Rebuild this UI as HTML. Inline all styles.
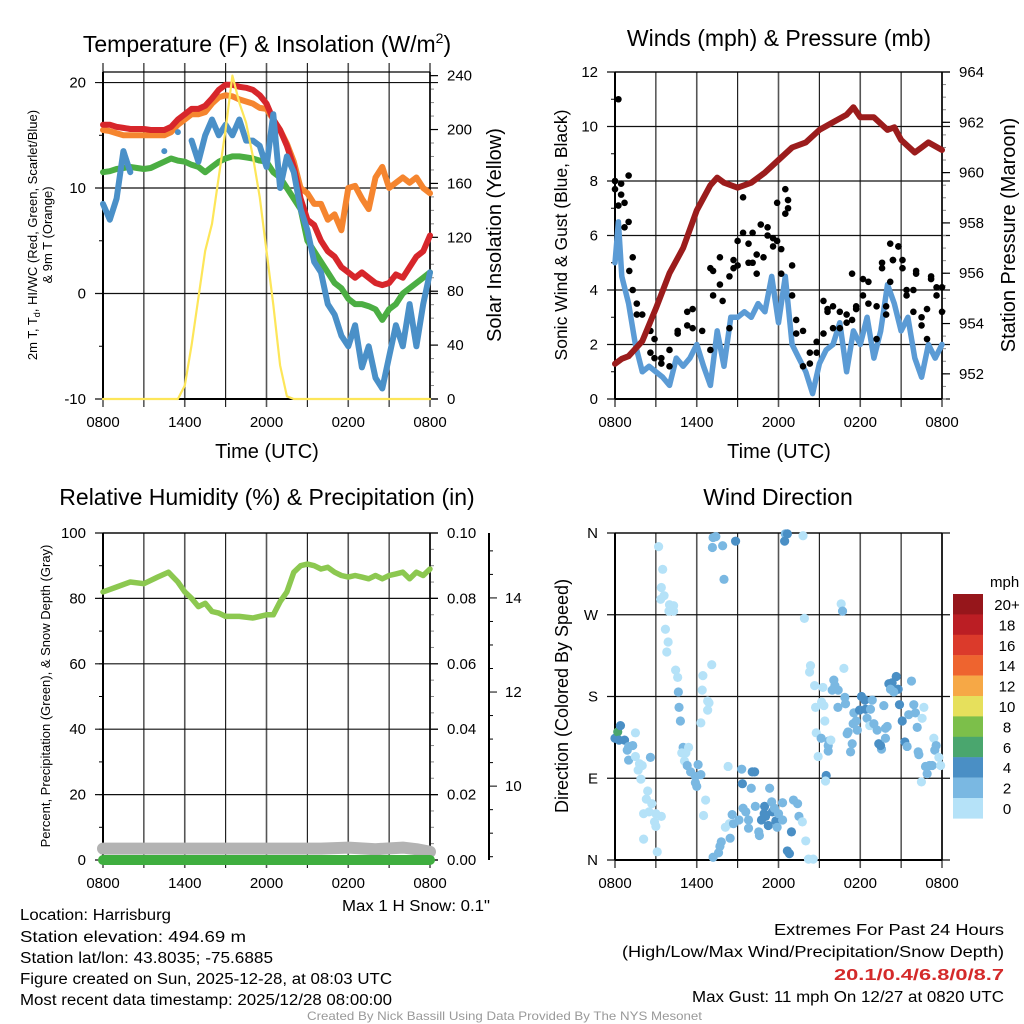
<!DOCTYPE html>
<html><head><meta charset="utf-8"><style>
html,body{margin:0;padding:0;background:#fff}
svg{display:block;font-family:"Liberation Sans",sans-serif}
</style></head><body>
<svg id="fig" width="1024" height="1024" viewBox="0 0 1024 1024" xmlns="http://www.w3.org/2000/svg">
<g id="static" fill="#000">
<text x="267" y="52" font-size="23" text-anchor="middle">Temperature (F) &amp; Insolation (W/m<tspan dy="-9" font-size="14">2</tspan><tspan dy="9">)</tspan></text>
<text x="779" y="46" font-size="23" text-anchor="middle">Winds (mph) &amp; Pressure (mb)</text>
<text x="267" y="505" font-size="23" text-anchor="middle">Relative Humidity (%) &amp; Precipitation (in)</text>
<text x="778" y="505" font-size="23" text-anchor="middle">Wind Direction</text>

<text x="267" y="458" font-size="20" text-anchor="middle">Time (UTC)</text>
<text x="779" y="458" font-size="20" text-anchor="middle">Time (UTC)</text>

<g transform="translate(37,235) rotate(-90)" font-size="13" text-anchor="middle"><text y="0">2m T, T<tspan font-size="9" dy="3">d</tspan><tspan dy="-3">, HI/WC (Red, Green, Scarlet/Blue)</tspan></text><text y="15">&amp; 9m T (Orange)</text></g>
<text transform="translate(501,235) rotate(-90)" font-size="20" text-anchor="middle">Solar Insolation (Yellow)</text>
<text transform="translate(567,235) rotate(-90)" font-size="17.5" text-anchor="middle">Sonic Wind &amp; Gust (Blue, Black)</text>
<text transform="translate(1015,235) rotate(-90)" font-size="20" text-anchor="middle">Station Pressure (Maroon)</text>
<text transform="translate(50,696) rotate(-90)" font-size="13" text-anchor="middle">Percent, Precipitation (Green), &amp; Snow Depth (Gray)</text>
<text transform="translate(568,696) rotate(-90)" font-size="18" text-anchor="middle">Direction (Colored By Speed)</text>

<text x="342" y="911" font-size="15.5" textLength="148" lengthAdjust="spacingAndGlyphs">Max 1 H Snow: 0.1"</text>
<g font-size="15.5">
<text x="20" y="920" textLength="151" lengthAdjust="spacingAndGlyphs">Location: Harrisburg</text>
<text x="20" y="942" textLength="226" lengthAdjust="spacingAndGlyphs">Station elevation: 494.69 m</text>
<text x="20" y="963" textLength="253" lengthAdjust="spacingAndGlyphs">Station lat/lon: 43.8035; -75.6885</text>
<text x="20" y="984" textLength="372" lengthAdjust="spacingAndGlyphs">Figure created on Sun, 2025-12-28, at 08:03 UTC</text>
<text x="20" y="1005" textLength="372" lengthAdjust="spacingAndGlyphs">Most recent data timestamp: 2025/12/28 08:00:00</text>
</g>
<g font-size="16">
<text x="774" y="935" textLength="230" lengthAdjust="spacingAndGlyphs">Extremes For Past 24 Hours</text>
<text x="622" y="957" textLength="382" lengthAdjust="spacingAndGlyphs">(High/Low/Max Wind/Precipitation/Snow Depth)</text>
<text x="834" y="980" textLength="170" lengthAdjust="spacingAndGlyphs" fill="#d42a2a" font-weight="bold">20.1/0.4/6.8/0/8.7</text>
<text x="692" y="1002" textLength="312" lengthAdjust="spacingAndGlyphs">Max Gust: 11 mph On 12/27 at 0820 UTC</text>
</g>
<text x="307" y="1020" font-size="12" fill="#999" textLength="395" lengthAdjust="spacingAndGlyphs">Created By Nick Bassill Using Data Provided By The NYS Mesonet</text>
</g>
</svg>
<script>
// ---------- data ----------
const tempTimes = [0,0.5,1,1.5,2,2.5,3,3.5,4,4.5,5,5.5,6,6.5,7,7.5,8,8.5,9,9.5,10,10.5,11,11.5,12,12.5,13,13.5,14,14.5,15,15.5,16,16.5,17,17.5,18,18.5,19,19.5,20,20.5,21,21.5,22,22.5,23,23.5,24];
const tempRed = [16,16,15.8,15.7,15.6,15.6,15.6,15.5,15.5,15.5,15.8,16.5,17,17.5,17.5,17.8,18.5,19.3,19.8,19.8,19.6,19.5,19.3,18.8,18,16.5,15.5,14,12,9,7,6.5,5,4,3.5,2.5,2,1.5,2,1.5,1,0.8,1,1.8,1.5,2.5,3.5,4,5.5];
const tempOrange = [15.5,15.4,15.2,15,15,15,15,15,15,15,15.3,16,16.5,17,17,17.2,18,18.6,18.8,18.7,18.4,18.2,18,17.6,17.5,16.5,15.5,14.2,12.5,10,9.5,8.5,8.5,7,7.5,6,10,10.2,9,8,11,12,10,10.5,11,10.5,11,10,9.5];
const tempGreen = [11.5,11.6,11.8,11.9,12,11.9,11.8,11.9,12.2,12.5,12.8,12.6,12.5,12.2,12,11.5,12,12.5,12.8,13,13,12.9,12.8,12.6,12.5,11.5,11,10,9,8,5,4,3,2,1,0.5,-0.5,-1,-1,-1.2,-1.5,-2.5,-1.5,-1,0,0.5,1,1.5,2];
const tempBlue = [8.5,7,9,13.5,11.5,null,null,null,null,13.5,null,15.3,null,14.5,12.5,15,16.5,15,16,15,16.5,14.5,14.5,14,12,17,10,13,11.5,8,6,3,2,-1,-2,-4,-5,-3,-7,-5,-8,-9,-6,-3,-5,-1,-5,-1,2];
const insolation = [0,0,0,0,0,0,0,0,0,0,0,0,10,40,75,110,130,165,200,240,220,205,180,150,110,70,25,2,0,0,0,0,0,0,0,0,0,0,0,0,0,0,0,0,0,0,0,0,0];

const windTimes = [0,0.25,0.5,1,1.5,2,2.5,3,3.5,4,4.5,5,5.5,6,6.5,7,7.5,8,8.5,9,9.5,10,10.5,11,11.5,12,12.5,13,13.5,14,14.5,15,15.5,16,16.5,17,17.5,18,18.5,19,19.5,20,20.5,21,21.5,22,22.5,23,23.5,24];
const windSpeed = [5,6.5,4.5,3.5,2,1,1.2,1,0.8,0.5,1.5,1.2,1.5,2,1.2,0.5,2.5,1.2,3,3,3.2,3,3.5,3.2,4.5,2.8,4.5,2,1.5,1,0.2,1.3,1.8,2,2.8,1,2.5,2,3,1.5,2.5,4.2,3.5,2.5,3,1.5,0.8,2,1.5,2];
const presTimes = [0,0.5,1,2,3,4,5,6,7,7.5,8,9,10,11,12,13,14,15,16,17,17.5,18,19,20,20.5,21,22,22.5,23,24];
const pressure = [952.4,952.6,952.7,953.3,954.6,956,957,958.5,959.5,959.8,959.6,959.4,959.6,960,960.5,961,961.2,961.7,962,962.3,962.6,962.2,962.2,961.7,961.8,961.3,960.8,961,961.2,960.9];
const gustTimes = [0,0,0.25,0.25,0.45,0.45,0.7,0.7,1,1,1.05,1.3,1.3,1.6,1.6,2,2.6,2.6,2.9,2.9,3.4,3.4,4,4,4.6,4.6,5.3,5.3,5.7,5.7,6.4,7,7,7.2,7.2,7.7,7.7,7.9,8.4,8.4,8.7,8.7,9,9,9.4,9.4,9.8,9.8,10.1,10.1,10.4,10.4,10.7,10.9,11.2,11.2,11.6,11.6,11.9,11.9,12.2,12.2,12.5,12.5,12.7,12.7,13,13,13.3,13.3,13.8,13.8,14.3,14.3,14.8,14.8,15.3,15.3,15.6,15.6,16,16,16.5,16.5,17,17,17.4,17.4,17.7,17.7,18.2,18.2,18.6,18.6,19.2,19.2,19.6,19.6,19.9,19.9,20.2,20.2,20.4,20.4,20.8,20.8,21.1,21.1,21.4,21.4,21.9,21.9,22.1,22.1,22.5,22.5,22.9,22.9,23.2,23.2,23.6,23.6,24,24];
const gustVals = [7.7,8,11,7.1,7.9,7.5,6.3,7.2,8.2,6.5,4.7,5.2,4,3.5,3.1,3.1,2.5,1.7,2.2,1.5,1.5,1.3,1.2,1.8,2.5,2.4,2.7,3.2,3.3,2.6,2.5,1.8,4.8,4.7,3.8,5.2,4.2,3.6,2.6,4.5,5.1,4.8,5.8,4.9,7.4,6.1,5.7,5,6.1,5,4.6,5.3,6.4,5.2,6.3,6,5.9,5.6,7.2,5.8,4.6,5.5,6.8,7.7,7,7.3,4.9,3.8,2.9,2.4,1.2,2.5,1.3,1.7,2.1,1.7,3.6,2.4,3.2,3.3,2.6,3.4,2.6,3.2,2.8,3.1,4.6,2.9,3.4,3.3,3.8,4.4,4.3,3.5,3.4,2.2,5,4.8,3.1,3.4,5.7,4.3,5.1,5.1,5.6,5.6,5.1,4.8,4,3.8,4,3.2,4.7,4.6,2.7,3,3.3,2.2,4.5,4.4,3.8,4.1,3.2,4.1];

const rhTimes = [0,1,2,3,4,4.8,5.5,6,6.5,7,7.5,8,8.5,9,10,11,12,12.5,13,13.5,14,14.5,15,15.5,16,16.5,17,17.5,18,18.5,19,19.5,20,20.5,21,21.5,22,22.5,23,23.5,24];
const rhVals = [82,83.5,85,84.5,86.5,88,85,82,80,77.5,78.5,76,75.5,74.5,74.5,74,75,75,79,82,88,90,90.5,90,89,89.5,88,87,86.5,87,86.5,86,87,86,87,87.5,88,86,88,87,89];
const snowTimes = [0,4,8,12,16,18,20,22,23,24];
const snowDepth = [3.5,3.5,3.5,3.5,3.5,3.8,3.3,3.8,3.3,2.5];
const precipTimes = [0,24];
const precipVals = [0,0];

const dirTimes = [0,0.2,0.4,0.3,0.7,1.0,1.3,0.9,1.5,1.0,1.5,1.8,2.0,1.7,1.9,2.6,2.4,2.3,2.7,2.1,2.5,3.0,3.4,2.9,3.0,2.1,3.1,
3.2,3.5,3.4,3.6,3.35,4.0,4.3,3.96,4.3,3.7,3.9,3.8,4.45,4.6,4.65,4.7,4.8,5.0,5.4,4.9,5.2,5.1,5.3,5.55,6.1,5.9,6.3,5.9,6.0,6.65,6.5,6.3,6.4,6.45,6.8,6.9,6.8,7.1,
7.4,7.2,7.15,7.9,8.0,8.85,12.5,12.65,12.45,13.8,16.6,16.7,13.9,
7.2,7.6,7.7,7.8,8.1,8.4,8.45,8.6,8.7,9.1,9.3,9.35,9.4,9.6,9.8,9.8,10.0,10.07,10.25,10.3,10.55,10.6,10.75,10.98,10.95,11.05,11.25,11.35,11.5,11.55,11.7,11.8,11.9,12.0,12.3,12.3,12.65,12.8,12.95,13.1,13.4,13.5,13.75,14.0,14.2,14.55,8.3,
14.35,14.28,14.65,15.26,15.16,15.33,14.72,15.4,14.77,15.13,15.7,15.65,15.84,14.91,15.65,15.5,15.45,16.06,16.14,15.94,16.38,16.87,16.92,16.36,16.8,17.53,17.48,17.7,17.04,17.11,17.41,17.29,17.78,17.95,18.09,18.34,18.39,18.5,18.75,18.88,18.7,19.0,19.24,19.36,19.56,19.49,19.73,19.85,19.98,19.85,20.1,20.34,20.64,20.78,20.22,20.46,20.88,21.08,21.27,21.44,21.76,21.93,22.05,21.56,22.18,22.3,22.25,22.67,22.54,22.79,22.91,22.49,23.08,23.28,23.4,23.47,23.57,23.77,23.9];
const dirDeg = [134,141,148,132,132,125,126,121,140,110,114,106,104,99,89,113,76,67,62,51,53,51,48,42,37,23,9,
345,320,300,291,287,281,280,274,274,254,240,229,209,201,185,168,153,124,124,118,118,109,104,97,105,92,94,85,81,66,49,151,187,203,175,173,165,215,
356,355,344,346,309,351,359,359,351,357,282,274,266,
3,8,15,20,36,40,24,50,40,44,100,84,57,53,35,44,79,97,97,59,31,27,44,59,51,48,38,79,64,53,57,43,36,51,44,63,10,7,31,66,62,48,42,21,1,1,103,
214,207,192,190,174,170,168,153,140,134,131,126,132,114,120,93,87,198,192,187,187,179,172,168,211,162,150,153,139,141,128,119,143,165,180,176,166,156,166,176,148,150,143,128,122,126,170,134,147,145,194,195,202,188,188,185,171,153,130,125,197,171,162,160,146,116,119,168,156,103,95,86,104,104,134,121,126,113,104];
const dirSpeed = [5,7,5,5,5,3,3,3,1,3,1,1,1,1,1,3,1,1,1,1,1,1,1,1,1,1,1,
1,1,1,1,1,1,1,1,1,1,1,1,1,1,3,3,3,3,1,1,1,1,3,3,3,3,3,3,3,1,1,1,1,1,1,1,1,1,
3,3,3,3,3,5,3,5,5,1,1,3,1,
3,3,3,3,1,1,3,3,3,3,3,5,3,3,3,3,3,5,5,3,3,3,5,5,5,5,5,3,3,5,3,5,3,3,3,3,5,5,5,3,3,3,1,1,1,1,1,
1,1,1,1,1,1,1,1,1,3,3,3,1,1,3,5,1,3,3,3,3,3,3,3,1,3,3,3,3,3,3,3,3,5,5,5,5,3,3,3,1,3,3,5,3,5,3,3,3,3,5,5,5,5,3,3,5,5,5,3,3,3,3,3,3,3,3,1,1,3,3,1,3,3,1,3,3,1,1];

const speedBinLabels = ["20+","18","16","14","12","10","8","6","4","2","0"];
const speedBinColors = ["#96161b","#bb1e24","#db3a2b","#ee642f","#f6a846","#e6e05c","#7cbf4a","#4aa66e","#4a8fc5","#7ab8e2","#b5e2f8"];

// ---------- helpers ----------
const NS = "http://www.w3.org/2000/svg";
const svg = document.getElementById('fig');
function mk(tag, attrs, parent){const e=document.createElementNS(NS,tag);for(const k in attrs)e.setAttribute(k,attrs[k]);(parent||svg).appendChild(e);return e;}
function makeScale(d0,d1,r0,r1){return v=>r0+(v-d0)*(r1-r0)/(d1-d0);}
function hourLabel(h){const v=(8+h)%24;return (v<10?'0':'')+v+'00';}

const panels = {
 temp:{x0:103,x1:430,y0:72,y1:399},
 wind:{x0:615,x1:942,y0:72,y1:399},
 rh:{x0:103,x1:430,y0:533,y1:860},
 dir:{x0:615,x1:942,y0:533,y1:860}
};
function drawFrame(p,name,leftTicks,leftMinor,ly,leftLabelFn,rightTicks,rightMinor,ry,rightLabelFn,topExt){
  const g = mk('g',{});
  
  
  const sx = makeScale(0,24,p.x0,p.x1);
  for(let h=0;h<=24;h+=3){
    const x=sx(h), lab=(h%6===0);
    const ln=mk('line',{x1:x,x2:x,y1:p.y0-topExt,y2:p.y1+8,stroke:lab?'#555':'#111','stroke-width':lab?1.6:1.1},g);
    
    
    if(lab){const t=mk('text',{x:x,y:p.y1+28,'font-size':15,'text-anchor':'middle'},g);t.textContent=hourLabel(h);
      
      }
  }
  leftMinor.forEach(v=>{const y=ly(v);mk('line',{x1:p.x0-4,x2:p.x0,y1:y,y2:y,stroke:'#000','stroke-width':1},g);});
  leftTicks.forEach(v=>{const y=ly(v);
    const ln=mk('line',{x1:p.x0-8,x2:p.x1+8,y1:y,y2:y,stroke:'#111','stroke-width':1.2},g);
    
    
    const t=mk('text',{x:p.x0-17,y:y+5,'font-size':15,'text-anchor':'end'},g);t.textContent=leftLabelFn(v);
    
    });
  if(rightTicks){
    rightMinor.forEach(v=>{const y=ry(v);mk('line',{x1:p.x1,x2:p.x1+4,y1:y,y2:y,stroke:'#888','stroke-width':1},g);});
    rightTicks.forEach(v=>{const y=ry(v);mk('line',{x1:p.x1,x2:p.x1+8,y1:y,y2:y,stroke:'#000','stroke-width':1.2},g);
      const t=mk('text',{x:p.x1+17,y:y+5,'font-size':15},g);t.textContent=rightLabelFn(v);
      
      });
  }
  mk('line',{x1:p.x0,x2:p.x0,y1:p.y0,y2:p.y1,stroke:'#000','stroke-width':2},g);
  mk('line',{x1:p.x1,x2:p.x1,y1:p.y0,y2:p.y1,stroke:'#000','stroke-width':1.5},g);
  mk('line',{x1:p.x0,x2:p.x1,y1:p.y1,y2:p.y1,stroke:'#000','stroke-width':2},g);
  mk('line',{x1:p.x0,x2:p.x1,y1:p.y0,y2:p.y0,stroke:'#000','stroke-width':1.2},g);
  return sx;
}
function range(a,b,s){const r=[];for(let v=a;v<=b+1e-9;v+=s)r.push(+v.toFixed(4));return r;}
function polyline(times,vals,sx,sy,color,w,name){
  let segs=[],cur=[];
  times.forEach((t,i)=>{const v=vals[i];if(v===null){if(cur.length)segs.push(cur);cur=[];}else cur.push(sx(t).toFixed(1)+','+sy(v).toFixed(1));});
  if(cur.length)segs.push(cur);
  segs.forEach(s=>{
    if(s.length===1){const [x,y]=s[0].split(',');const c=mk('circle',{cx:x,cy:y,r:w/2,fill:color});
      
      }
    else{const pl=mk('polyline',{points:s.join(' '),fill:'none',stroke:color,'stroke-width':w,'stroke-linejoin':'round','stroke-linecap':'round'});
      
      }
  });
}

// ---------- temperature panel ----------
{const p=panels.temp;
 const ly=makeScale(-10,21,p.y1,p.y0);
 const ry=makeScale(0,242.7,p.y1,p.y0);
 const sx=drawFrame(p,'temp',[-10,0,10,20],range(-10,20,5),ly,v=>String(v),range(0,240,40),range(0,240,10),ry,v=>String(v),9);
 polyline(tempTimes,tempOrange,sx,ly,'#f5852f',6,'orange-9m-temp-line');
 polyline(tempTimes,tempRed,sx,ly,'#d7262b',6,'red-2m-temp-line');
 polyline(tempTimes,tempGreen,sx,ly,'#4bae43',6,'green-dewpoint-line');
 polyline(tempTimes,tempBlue,sx,ly,'#4a90c8',6,'blue-hi-wc-line');
 polyline(tempTimes,insolation,sx,ry,'#fde659',2.2,'yellow-insolation-line');
}
// ---------- wind panel ----------
{const p=panels.wind;
 const ly=makeScale(0,12,p.y1,p.y0);
 const ry=makeScale(951,964,p.y1,p.y0);
 const sx=drawFrame(p,'wind',range(0,12,2),range(0,12,1),ly,v=>String(v),range(952,964,2),range(951,964,0.5),ry,v=>String(v),0);
 polyline(windTimes,windSpeed,sx,ly,'#5b9bd5',5.5,'sonic-wind-line');
 gustTimes.forEach((t,i)=>{const c=mk('circle',{cx:sx(t),cy:ly(gustVals[i]),r:3.3,fill:'#000'});
   
   });
 polyline(presTimes,pressure,sx,ry,'#9b1c1c',6,'station-pressure-line');
}
// ---------- RH panel ----------
{const p=panels.rh;
 const ly=makeScale(0,100,p.y1,p.y0);
 const ry=makeScale(0,0.1,p.y1,p.y0);
 const sx=drawFrame(p,'rh',range(0,100,20),range(0,100,10),ly,v=>String(v),range(0,0.1,0.02),range(0,0.1,0.005),ry,v=>v.toFixed(2),0);
 polyline(snowTimes,snowDepth,sx,ly,'#b3b3b3',12,'snow-depth-line');
 polyline(precipTimes,precipVals,sx,ly,'#3fae3f',10,'precipitation-line');
 polyline(rhTimes,rhVals,sx,ly,'#8cc850',5.5,'relative-humidity-line');
 const sd=makeScale(8.43,15.38,p.y1,p.y0);
 const g=mk('g',{});
 
 
 mk('line',{x1:489,x2:489,y1:p.y0,y2:p.y1,stroke:'#000','stroke-width':2},g);
 range(8.5,15,0.5).forEach(v=>{const y=sd(v);const maj=Math.abs(v-Math.round(v/2)*2)<1e-6;
   mk('line',{x1:489,x2:maj?497:493,y1:y,y2:y,stroke:'#000','stroke-width':1},g);
   if(maj){const t=mk('text',{x:505,y:y+5,'font-size':15},g);t.textContent=String(v);
     
     }});
}
// ---------- direction panel ----------
{const p=panels.dir;
 const ly=makeScale(0,360,p.y1,p.y0);
 const dirLabels=['N','E','S','W','N'];
 const sx=drawFrame(p,'dir',[0,90,180,270,360],[],ly,v=>dirLabels[v/90],null,null,null,null,0);
 function colorFor(s){let idx=Math.min(10,Math.floor(s/2));return speedBinColors[10-idx];}
 dirTimes.forEach((t,i)=>{const c=mk('circle',{cx:sx(t),cy:ly(dirDeg[i]),r:4.6,fill:colorFor(dirSpeed[i])});
   
   });
 const g=mk('g',{});
 
 
 const t0=mk('text',{x:990,y:587,'font-size':15},g);t0.textContent='mph';
 
 
 speedBinLabels.forEach((lab,i)=>{const y=594+i*20.4;
   const r=mk('rect',{x:953,y:y,width:30,height:20.6,fill:speedBinColors[i]},g);
   
   
   const t=mk('text',{x:1007,y:y+16,'font-size':15,'text-anchor':'middle'},g);t.textContent=lab;
   
   });
}
</script>
</body></html>
